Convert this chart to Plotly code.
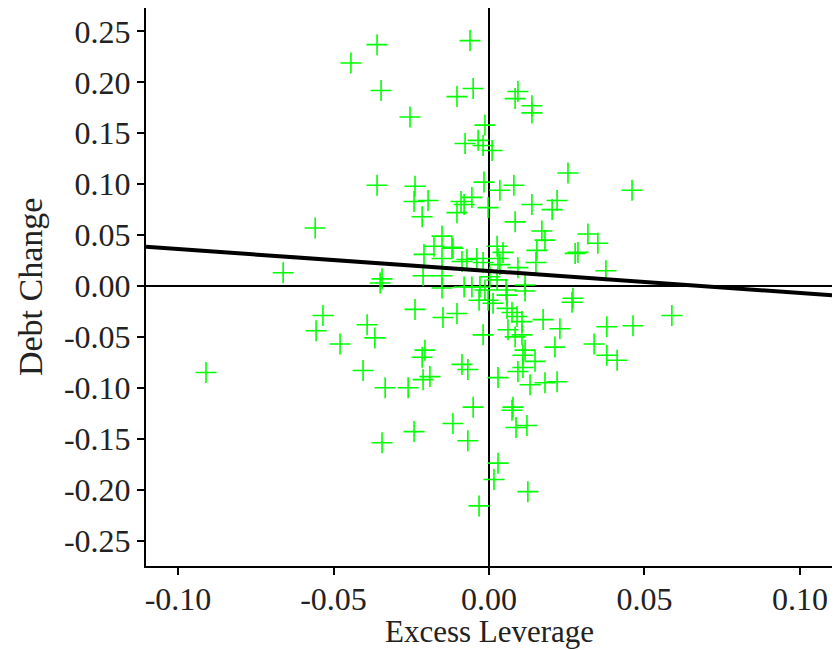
import plotly.graph_objects as go

excess_leverage = [
    -0.0444, -0.0360, -0.0347, -0.0061, -0.0051, -0.0103, 0.0093, 0.0084, -0.0254, -0.0013,
    -0.0077, -0.0035, -0.0019, 0.0010, 0.0138, 0.0138, 0.0254, 0.0460, -0.0360, -0.0238,
    -0.0016, 0.0035, 0.0080, -0.0559, -0.0662, -0.0241, -0.0196, -0.0215, -0.0090, -0.0055,
    -0.0080, -0.0103, -0.0003, 0.0138, 0.0219, 0.0203, 0.0084, 0.0170, 0.0180, 0.0154,
    0.0151, 0.0318, 0.0350, 0.0286, 0.0277, 0.0376, -0.0151, -0.0177, -0.0119, -0.0116,
    -0.0209, -0.0151, -0.0087, -0.0071, -0.0039, -0.0019, 0.0026, 0.0045, 0.0029, 0.0035,
    0.0093, -0.0212, -0.0151, -0.0344, -0.0350, -0.0151, -0.0080, -0.0055, -0.0029, -0.0013,
    0.0003, 0.0026, 0.0055, 0.0058, 0.0116, 0.0116, -0.0032, -0.0003, 0.0013, 0.0270,
    0.0267, -0.0534, -0.0556, -0.0479, -0.0238, -0.0103, -0.0148, 0.0058, 0.0074, 0.0090,
    0.0106, 0.0174, 0.0228, 0.0379, 0.0463, 0.0588, -0.0392, -0.0367, -0.0019, 0.0061,
    0.0084, 0.0106, 0.0116, 0.0109, 0.0148, 0.0212, 0.0338, 0.0379, 0.0412, -0.0206,
    -0.0215, -0.0087, -0.0068, -0.0405, -0.0910, -0.0190, -0.0212, 0.0029, 0.0093, 0.0109,
    0.0132, 0.0180, 0.0219, -0.0334, -0.0260, -0.0051, 0.0077, 0.0074, -0.0116, -0.0241,
    -0.0344, -0.0068, 0.0087, 0.0122, 0.0029, 0.0016, -0.0032, 0.0125,
]
debt_change = [
    0.219, 0.237, 0.192, 0.241, 0.194, 0.186, 0.191, 0.184, 0.166, 0.158,
    0.140, 0.143, 0.138, 0.133, 0.177, 0.170, 0.111, 0.094, 0.099, 0.098,
    0.102, 0.094, 0.099, 0.057, 0.013, 0.083, 0.084, 0.068, 0.083, 0.087,
    0.080, 0.072, 0.077, 0.080, 0.084, 0.075, 0.063, 0.054, 0.045, 0.035,
    0.023, 0.051, 0.042, 0.033, 0.032, 0.015, 0.049, 0.039, 0.038, 0.037,
    0.031, 0.027, 0.024, 0.026, 0.027, 0.023, 0.039, 0.033, 0.027, 0.021,
    0.018, 0.010, 0.010, 0.007, 0.003, -0.002, -0.001, -0.001, -0.001, -0.004,
    0.009, 0.006, -0.004, -0.009, 0.001, -0.005, -0.014, -0.014, -0.017, -0.012,
    -0.016, -0.029, -0.044, -0.057, -0.023, -0.027, -0.031, -0.022, -0.026, -0.030,
    -0.035, -0.033, -0.042, -0.040, -0.039, -0.029, -0.038, -0.051, -0.048, -0.043,
    -0.050, -0.048, -0.063, -0.068, -0.074, -0.060, -0.057, -0.068, -0.073, -0.063,
    -0.070, -0.077, -0.082, -0.083, -0.085, -0.089, -0.092, -0.090, -0.084, -0.080,
    -0.097, -0.095, -0.094, -0.100, -0.100, -0.119, -0.119, -0.122, -0.135, -0.143,
    -0.154, -0.152, -0.139, -0.137, -0.174, -0.190, -0.216, -0.202,
]

fit_intercept = 0.0147
fit_slope = -0.216

x_range = [-0.1103, 0.1103]
y_range = [-0.275, 0.273]

x_tickvals = [-0.10, -0.05, 0.00, 0.05, 0.10]
x_ticktext = ["-0.10", "-0.05", "0.00", "0.05", "0.10"]
y_tickvals = [-0.25, -0.20, -0.15, -0.10, -0.05, 0.00, 0.05, 0.10, 0.15, 0.20, 0.25]
y_ticktext = ["-0.25", "-0.20", "-0.15", "-0.10", "-0.05", "0.00",
              "0.05", "0.10", "0.15", "0.20", "0.25"]

x_title = "Excess Leverage"
y_title = "Debt Change"

font_family = "Liberation Serif"
text_color = "#222222"

fig = go.Figure()
fig.add_trace(go.Scatter(
    x=excess_leverage, y=debt_change, mode="markers",
    marker=dict(symbol="cross-thin-open", size=15, color="#00ff00",
                line=dict(color="#00ff00", width=1.6)),
    showlegend=False, hoverinfo="skip",
))
fit_x = list(x_range)
fit_y = [fit_intercept + fit_slope * v for v in fit_x]
fig.add_trace(go.Scatter(
    x=fit_x, y=fit_y, mode="lines",
    line=dict(color="black", width=4),
    showlegend=False, hoverinfo="skip",
))

axis_common = dict(
    showgrid=False, showline=True, linecolor="black", linewidth=2,
    ticks="outside", ticklen=7, tickwidth=1.5, tickcolor="black",
    zeroline=True, zerolinecolor="black", zerolinewidth=1.5,
    tickfont=dict(family=font_family, size=32, color=text_color),
)

fig.update_layout(
    width=837, height=650,
    margin=dict(l=146, r=5, t=8, b=84),
    plot_bgcolor="white", paper_bgcolor="white",
    xaxis=dict(range=x_range, tickvals=x_tickvals, ticktext=x_ticktext,
               ticklabelstandoff=-3, **axis_common),
    yaxis=dict(range=y_range, tickvals=y_tickvals, ticktext=y_ticktext, **axis_common),
    annotations=[
        dict(text=x_title, xref="paper", yref="paper", x=0.5, y=-0.1165,
             xanchor="center", yanchor="middle", showarrow=False,
             font=dict(family=font_family, size=31, color=text_color)),
        dict(text=y_title, xref="paper", yref="paper", x=-0.169, y=0.5,
             xanchor="center", yanchor="middle", showarrow=False, textangle=-90,
             font=dict(family=font_family, size=34, color=text_color)),
    ],
)

fig.write_html("out.html")
